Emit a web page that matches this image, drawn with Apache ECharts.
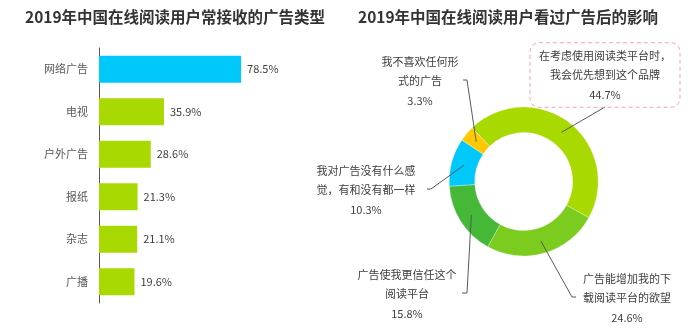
<!DOCTYPE html>
<html><head><meta charset="utf-8">
<script src="https://cdn.jsdelivr.net/npm/echarts@6/dist/echarts.min.js"></script>
<style>html,body{margin:0;padding:0;background:#fff}#c{width:699px;height:329px}</style>
</head><body><div id="c"></div>
<script>
const barTitle = '2019年中国在线阅读用户常接收的广告类型';
const pieTitle = '2019年中国在线阅读用户看过广告后的影响';
const barCategories = ['网络广告', '电视', '户外广告', '报纸', '杂志', '广播'];
const barValues = [78.5, 35.9, 28.6, 21.3, 21.1, 19.6];
const pieNames = ['在考虑使用阅读类平台时，\n我会优先想到这个品牌', '广告能增加我的下\n载阅读平台的欲望', '广告使我更信任这个\n阅读平台', '我对广告没有什么感\n觉，有和没有都一样', '我不喜欢任何形\n式的广告'];
const pieValues = [44.7, 24.6, 15.8, 10.3, 3.3];

const FONT = '"Noto Sans CJK SC", "Noto Sans", sans-serif';
const barColors = ['#00c8fb', '#a8d900', '#a8d900', '#a8d900', '#a8d900', '#a8d900'];
const pieColors = ['#a8d900', '#7ccc1f', '#45b838', '#00c8fb', '#ffc800'];
// label layout (pixel positions of annotation text and leader-line ends)
const pieLabelPos = [
  {x: 605, y: 75, elbow: null, end: [605, 107]},
  {x: 627, y: 298, elbow: [572, 297], end: [576, 297]},
  {x: 407, y: 294, elbow: [467, 293], end: [462, 293]},
  {x: 366, y: 190, elbow: [431, 189], end: [427, 189]},
  {x: 420, y: 81, elbow: [467, 80], end: [463, 80]}
];

const chart = echarts.init(document.getElementById('c'), null, {renderer: 'canvas'});
chart.setOption({
  animation: false,
  textStyle: {fontFamily: FONT},
  title: [
    {text: barTitle, left: 20, top: 4, textStyle: {fontFamily: FONT, fontSize: 15.5, fontWeight: 'bold', color: '#333'}},
    {text: pieTitle, left: 353, top: 4, textStyle: {fontFamily: FONT, fontSize: 15.5, fontWeight: 'bold', color: '#333'}}
  ],
  grid: {left: 99, top: 48, width: 181, height: 255},
  xAxis: {type: 'value', min: 0, max: 100, show: false, splitLine: {show: false}},
  yAxis: {
    type: 'category', data: barCategories, inverse: true,
    axisLine: {show: true, lineStyle: {color: '#595959', width: 1}},
    axisTick: {show: false},
    axisLabel: {color: '#595959', fontSize: 11, margin: 11, fontFamily: FONT}
  },
  series: [
    {
      type: 'bar', data: barValues, barCategoryGap: '37%',
      itemStyle: {color: p => barColors[p.dataIndex]},
      label: {show: true, position: 'right', distance: 6, color: '#404040', fontSize: 11, fontFamily: FONT, formatter: '{c}%'}
    },
    {
      type: 'pie', center: [523.7, 181.5], radius: [49, 74.5], startAngle: 134, clockwise: true,
      silent: true, z: 2,
      label: {show: false}, labelLine: {show: false},
      itemStyle: {borderColor: 'rgba(255,255,255,0.6)', borderWidth: 0.5},
      data: pieNames.map((n, i) => ({name: n, value: pieValues[i], itemStyle: {color: pieColors[i]}}))
    },
    {
      type: 'pie', center: [523.7, 181.5], radius: [0, 62], startAngle: 134, clockwise: true,
      silent: true, z: 5, avoidLabelOverlap: false,
      itemStyle: {color: 'rgba(0,0,0,0)'},
      emphasis: {disabled: true},
      label: {show: true, position: 'outside', formatter: '{b}\n{c}%', color: '#404040', fontSize: 11, lineHeight: 19.5, align: 'center', fontFamily: FONT},
      labelLine: {show: true, length: 10, length2: 5, lineStyle: {color: '#595959', width: 1}},
      labelLayout: function (params) {
        const p = pieLabelPos[params.dataIndex];
        const res = {x: p.x, y: p.y, align: 'center', verticalAlign: 'middle'};
        const pts = params.labelLinePoints;
        if (pts && pts[0]) {
          res.labelLinePoints = [pts[0], p.elbow || p.end, p.end];
        }
        return res;
      },
      data: pieNames.map((n, i) => {
        const d = {name: n, value: pieValues[i]};
        if (i === 0) {
          d.label = {borderColor: '#f4a4ab', borderType: [4, 3], borderWidth: 1, borderRadius: 9, padding: [3, 9, 3, 9]};
        }
        return d;
      })
    }
  ]
});
</script>
</body></html>
